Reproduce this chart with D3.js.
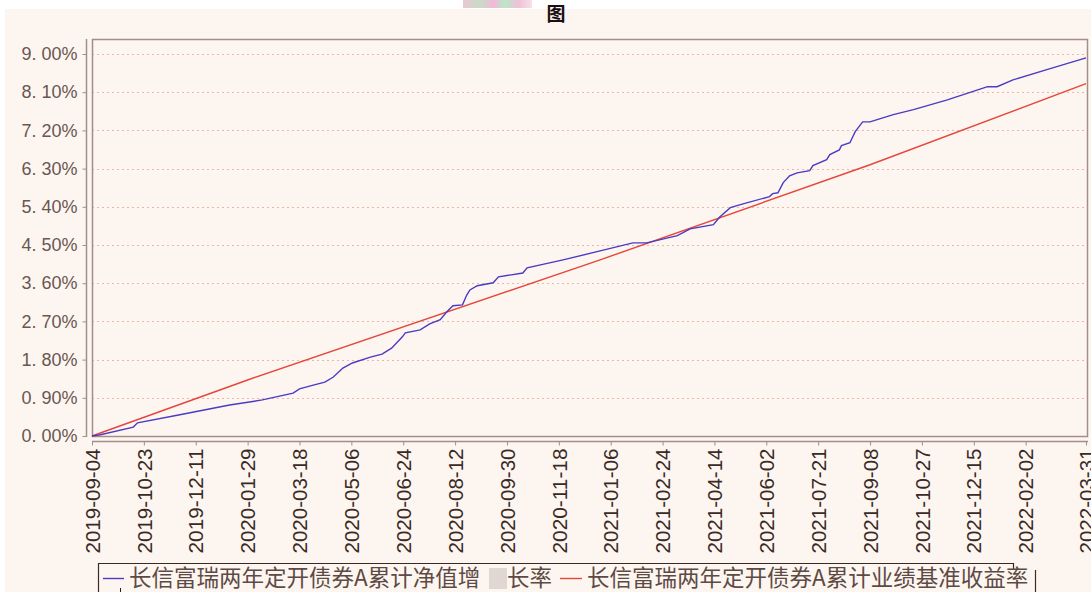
<!DOCTYPE html>
<html>
<head>
<meta charset="utf-8">
<script src="https://cdn.jsdelivr.net/npm/d3@7"></script>
<style>
    body { margin: 0; background: #ffffff; }
    #chart { width: 1091px; height: 592px; }
</style>
</head>
<body>
<div id="chart"></div>
<script>
//Datos
const navDates = ['2019-09-04','2019-09-12','2019-10-13','2019-10-17','2019-11-26','2020-01-12','2020-02-12','2020-03-12','2020-03-18','2020-03-31',
    '2020-04-11','2020-04-19','2020-04-28','2020-05-07','2020-05-24','2020-06-04','2020-06-13','2020-06-23','2020-06-26','2020-07-10',
    '2020-07-19','2020-07-29','2020-08-04','2020-08-10','2020-08-19','2020-08-23','2020-08-26','2020-09-02','2020-09-17','2020-09-22',
    '2020-10-15','2020-10-19','2020-11-22','2020-12-27','2021-01-27','2021-02-09','2021-03-10','2021-03-22','2021-04-13','2021-04-19',
    '2021-04-29','2021-05-11','2021-06-05','2021-06-08','2021-06-13','2021-06-18','2021-06-24','2021-07-01','2021-07-13','2021-07-16',
    '2021-07-29','2021-08-01','2021-08-10','2021-08-12','2021-08-20','2021-08-25','2021-09-01','2021-09-08','2021-09-17','2021-09-30',
    '2021-10-19','2021-11-20','2021-12-28','2022-01-06','2022-01-21','2022-02-22','2022-03-31'];
const navValues = [0.00,0.03,0.21,0.31,0.50,0.73,0.85,1.01,1.11,1.20,
    1.27,1.39,1.60,1.72,1.86,1.93,2.07,2.33,2.43,2.50,
    2.64,2.74,2.92,3.07,3.09,3.32,3.44,3.54,3.61,3.75,
    3.84,3.96,4.15,4.36,4.55,4.55,4.72,4.88,4.98,5.16,
    5.38,5.47,5.64,5.71,5.73,5.97,6.13,6.20,6.25,6.37,
    6.51,6.63,6.74,6.84,6.91,7.17,7.40,7.40,7.47,7.57,
    7.69,7.92,8.23,8.23,8.39,8.63,8.91];

const benchDates = ['2019-09-04','2020-01-29','2020-12-27','2021-09-08','2022-03-31'];
const benchValues = [0.00,1.32,4.15,6.39,8.30];

const xTicks = ['2019-09-04','2019-10-23','2019-12-11','2020-01-29','2020-03-18','2020-05-06','2020-06-24','2020-08-12','2020-09-30','2020-11-18',
    '2021-01-06','2021-02-24','2021-04-14','2021-06-02','2021-07-21','2021-09-08','2021-10-27','2021-12-15','2022-02-02','2022-03-31'];
const yTicks = [0, 0.9, 1.8, 2.7, 3.6, 4.5, 5.4, 6.3, 7.2, 8.1, 9.0];

const seriesNames = ['长信富瑞两年定开债券A累计净值增', '长率', '长信富瑞两年定开债券A累计业绩基准收益率'];
const titleText = '图';

//Colores
const blue = '#4a3ac4', red = '#e6453a', cream = '#fdf6f0', frame = '#a48e88', grid = '#efb4aa';

let parse = d3.timeParse('%Y-%m-%d');

let width = 1091, height = 592;
let plotLeft = 92, plotRight = 1088, plotTop = 39, plotBottom = 436;

const svg = d3.select('#chart')
    .append('svg')
    .attr('width', width)
    .attr('height', height);

//Fondo
svg.append('rect')
    .attr('x', 5).attr('y', 9)
    .attr('width', width - 5).attr('height', height - 9)
    .attr('fill', cream);

let noise = svg.append('defs').append('linearGradient').attr('id', 'noise');
[['0%','#e8c8d0'],['25%','#c8dcc8'],['45%','#f4b8d8'],['60%','#b8e8c8'],['80%','#f0c0d8'],['100%','#f8e0e8']].forEach(function(s) {
    noise.append('stop').attr('offset', s[0]).attr('stop-color', s[1]);
});
svg.append('rect')
    .attr('x', 463).attr('y', 0)
    .attr('width', 69).attr('height', 8)
    .attr('fill', 'url(#noise)');

svg.append('text')
    .attr('x', 556).attr('y', 21)
    .attr('text-anchor', 'middle')
    .attr('font-family', 'Noto Sans CJK SC')
    .attr('font-weight', 'bold')
    .attr('font-size', 19)
    .attr('fill', '#1a1010')
    .text(titleText);

//Escalas
let x = d3.scaleTime()
    .domain([parse('2019-09-04'), parse('2022-03-31')])
    .range([plotLeft, 1086]);

let y = d3.scaleLinear()
    .domain([0, 9])
    .range([plotBottom, 54]);

//Rejilla
svg.append('g')
    .selectAll('line')
    .data(yTicks.slice(1))
    .enter()
    .append('line')
    .attr('x1', plotLeft).attr('x2', plotRight)
    .attr('y1', d => Math.round(y(d)) + 0.5)
    .attr('y2', d => Math.round(y(d)) + 0.5)
    .attr('stroke', grid)
    .attr('stroke-dasharray', '2,3');

svg.append('rect')
    .attr('x', plotLeft + 0.5).attr('y', plotTop + 0.5)
    .attr('width', plotRight - plotLeft - 1).attr('height', plotBottom - plotTop)
    .attr('fill', 'none')
    .attr('stroke', frame)
    .attr('stroke-width', 1.5);

//Ejes
let yAxis = svg.append('g')
    .attr('transform', 'translate(86.5,0)')
    .call(d3.axisLeft(y).tickValues(yTicks).tickSize(4).tickPadding(5)
        .tickFormat(d => d.toFixed(2).replace('.', '. ') + '%'));
yAxis.select('.domain').attr('d', 'M0,' + plotTop + 'V' + (plotBottom + 1)).attr('stroke', frame).attr('stroke-width', 1.5);
yAxis.selectAll('.tick line').attr('stroke', frame);
yAxis.selectAll('.tick text')
    .attr('font-family', 'Liberation Sans')
    .attr('font-size', 18)
    .attr('fill', '#6a5652')
    .attr('x', -9);

let xAxis = svg.append('g')
    .attr('transform', 'translate(0,441.5)')
    .call(d3.axisBottom(x).tickValues(xTicks.map(parse)).tickSize(4)
        .tickFormat(d3.timeFormat('%Y-%m-%d')));
xAxis.select('.domain').attr('d', 'M' + plotLeft + ',0H' + plotRight).attr('stroke', frame).attr('stroke-width', 1.5);
xAxis.selectAll('.tick line').attr('stroke', frame);
xAxis.selectAll('.tick text')
    .attr('font-family', 'Liberation Sans')
    .attr('font-size', 20)
    .attr('fill', '#3a2a26')
    .attr('text-anchor', 'end')
    .attr('transform', 'rotate(-90)')
    .attr('x', -7)
    .attr('y', 0)
    .attr('dy', '0.36em')
    .attr('textLength', 105)
    .attr('lengthAdjust', 'spacingAndGlyphs');

//Lineas
let line = d3.line()
    .x(d => x(parse(d[0])))
    .y(d => y(d[1]));

svg.append('path')
    .datum(d3.zip(benchDates, benchValues))
    .attr('d', line)
    .attr('fill', 'none')
    .attr('stroke', red)
    .attr('stroke-width', 1.4);

svg.append('path')
    .datum(d3.zip(navDates, navValues))
    .attr('d', line)
    .attr('fill', 'none')
    .attr('stroke', blue)
    .attr('stroke-width', 1.4);

//Leyenda
svg.append('path')
    .attr('d', 'M98.5,592V563.5H1013.5V570')
    .attr('fill', 'none')
    .attr('stroke', '#3a2a26')
    .attr('stroke-width', 1.2);
svg.append('line')
    .attr('x1', 1035.5).attr('x2', 1035.5)
    .attr('y1', 570).attr('y2', 592)
    .attr('stroke', '#3a2a26')
    .attr('stroke-width', 1.2);
svg.append('line')
    .attr('x1', 120.5).attr('x2', 120.5)
    .attr('y1', 588).attr('y2', 592)
    .attr('stroke', '#222');

let legend = svg.append('g')
    .attr('font-family', 'Noto Sans CJK SC')
    .attr('font-size', 22.5)
    .attr('fill', '#5e4a45');

legend.append('line')
    .attr('x1', 103).attr('x2', 124).attr('y1', 578.5).attr('y2', 578.5)
    .attr('stroke', blue).attr('stroke-width', 1.4);
legend.append('text').attr('x', 129).attr('y', 586).text(seriesNames[0]);
legend.append('rect')
    .attr('x', 489).attr('y', 568).attr('width', 18).attr('height', 21)
    .attr('fill', '#d8d0cc').attr('opacity', 0.8);
legend.append('text').attr('x', 507).attr('y', 586).text(seriesNames[1]);

legend.append('line')
    .attr('x1', 560).attr('x2', 582).attr('y1', 578.5).attr('y2', 578.5)
    .attr('stroke', red).attr('stroke-width', 1.4);
legend.append('text').attr('x', 587).attr('y', 586).text(seriesNames[2]);
</script>
</body>
</html>
